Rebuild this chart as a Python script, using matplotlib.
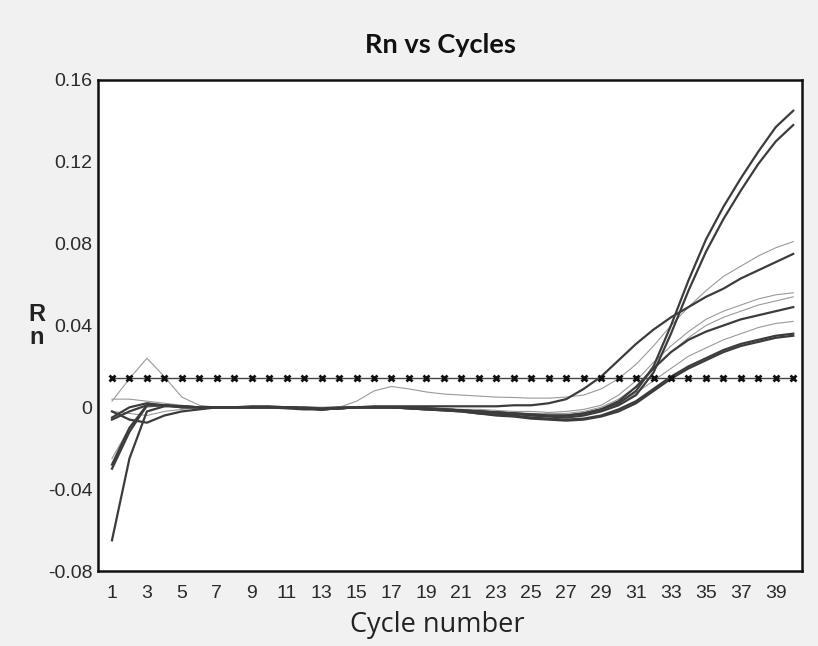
import matplotlib
matplotlib.use("Agg")
import matplotlib.pyplot as plt
import numpy as np

cycles = list(range(1, 41))
threshold = 0.0145

# thick (dark) amplification curves
curve_a = [-0.065, -0.025, -0.002, 0.0005, 0.0005, 0.0, 0.0, 0.0, 0.0, 0.0,
           -0.0005, -0.001, -0.001, -0.0005, 0.0, 0.0, 0.0, -0.0005, -0.001, -0.001,
           -0.0015, -0.002, -0.0025, -0.003, -0.0035, -0.004, -0.004, -0.003, -0.001, 0.002,
           0.008, 0.020, 0.040, 0.062, 0.082, 0.098, 0.112, 0.125, 0.137, 0.145]
curve_b = [-0.030, -0.012, 0.001, 0.001, 0.0005, 0.0, 0.0, 0.0, 0.0, 0.0,
           0.0, -0.0005, -0.001, -0.0005, 0.0, 0.0, 0.0, 0.0, -0.0005, -0.001,
           -0.0015, -0.002, -0.0025, -0.003, -0.004, -0.0045, -0.005, -0.004, -0.002, 0.001,
           0.006, 0.017, 0.036, 0.057, 0.076, 0.092, 0.106, 0.119, 0.130, 0.138]
curve_d = [-0.005, 0.000, 0.002, 0.001, 0.0005, 0.0, 0.0, 0.0, 0.0005, 0.0005,
           0.0, 0.0, -0.0005, 0.0, 0.0, 0.0005, 0.0005, 0.0005, 0.0005, 0.0005,
           0.0005, 0.0005, 0.0005, 0.001, 0.001, 0.002, 0.004, 0.009, 0.015, 0.023,
           0.031, 0.038, 0.044, 0.049, 0.054, 0.058, 0.063, 0.067, 0.071, 0.075]
curve_g = [-0.028, -0.010, 0.001, 0.001, 0.0, 0.0, 0.0, 0.0, 0.0, 0.0,
           0.0, -0.0005, -0.001, -0.0005, 0.0, 0.0, 0.0, 0.0, -0.0005, -0.001,
           -0.0015, -0.002, -0.0025, -0.003, -0.0035, -0.004, -0.004, -0.003, -0.001, 0.003,
           0.010, 0.019, 0.027, 0.033, 0.037, 0.040, 0.043, 0.045, 0.047, 0.049]
curve_i = [-0.006, -0.002, 0.001, 0.001, 0.0, 0.0, 0.0, 0.0, 0.0, 0.0,
           0.0, -0.0005, -0.001, -0.0005, 0.0, 0.0, 0.0, -0.0005, -0.001, -0.0015,
           -0.002, -0.003, -0.0035, -0.004, -0.005, -0.0055, -0.006, -0.0055, -0.004, -0.001,
           0.003, 0.009, 0.015, 0.020, 0.024, 0.028, 0.031, 0.033, 0.035, 0.036]
curve_j = [-0.002, -0.006, -0.0075, -0.004, -0.002, -0.001, 0.0, 0.0, 0.0, 0.0,
           0.0, -0.0005, -0.001, -0.0005, 0.0, 0.0, 0.0, -0.0005, -0.001, -0.0015,
           -0.002, -0.003, -0.004, -0.0045, -0.0055, -0.006, -0.0065, -0.006, -0.0045, -0.002,
           0.002, 0.008, 0.014, 0.019, 0.023, 0.027, 0.030, 0.032, 0.034, 0.035]

# thin (light) curves
curve_c = [0.003, 0.014, 0.024, 0.015, 0.005, 0.001, 0.0, 0.0, 0.0, 0.0,
           0.0, 0.0, 0.0, 0.0, 0.003, 0.008, 0.0102, 0.009, 0.0075, 0.0065,
           0.006, 0.0055, 0.005, 0.0048, 0.0045, 0.0045, 0.005, 0.006, 0.009, 0.014,
           0.021, 0.030, 0.040, 0.049, 0.057, 0.064, 0.069, 0.074, 0.078, 0.081]
curve_e = [-0.025, -0.010, 0.0, 0.001, 0.0005, 0.0, 0.0, 0.0, 0.0, 0.0,
           0.0, -0.0005, -0.0005, 0.0, 0.0, 0.0, 0.0, 0.0, 0.0, -0.0005,
           -0.001, -0.001, -0.0015, -0.002, -0.002, -0.0025, -0.002, -0.001, 0.001, 0.006,
           0.013, 0.022, 0.030, 0.037, 0.043, 0.047, 0.050, 0.053, 0.055, 0.056]
curve_f = [0.004, 0.004, 0.003, 0.002, 0.001, 0.0, 0.0, 0.0, 0.0, 0.0,
           0.0, 0.0, 0.0, 0.0, 0.0, 0.0, 0.0, 0.0, -0.0005, -0.001,
           -0.001, -0.0015, -0.002, -0.0025, -0.003, -0.003, -0.003, -0.002, 0.000, 0.004,
           0.010, 0.019, 0.027, 0.034, 0.040, 0.044, 0.047, 0.050, 0.052, 0.054]
curve_h = [-0.002, -0.003, -0.004, -0.002, -0.001, 0.0, 0.0, 0.0, 0.0, 0.0,
           0.0, -0.0005, -0.001, -0.0005, 0.0, 0.0, 0.0, 0.0, -0.0005, -0.001,
           -0.0015, -0.002, -0.003, -0.0035, -0.004, -0.0045, -0.0045, -0.003, -0.001, 0.002,
           0.007, 0.013, 0.019, 0.025, 0.029, 0.033, 0.036, 0.039, 0.041, 0.042]

thick_curves = [curve_d, curve_g, curve_i, curve_j, curve_b, curve_a]
thin_curves = [curve_c, curve_e, curve_f, curve_h]

xtick_labels = [str(c) for c in range(1, 40, 2)]
ytick_values = [-0.08, -0.04, 0, 0.04, 0.08, 0.12, 0.16]
ytick_labels = ["-0.08", "-0.04", "0", "0.04", "0.08", "0.12", "0.16"]

bg = "#f1f1f1"
fig = plt.figure(figsize=(8.18, 6.46), dpi=100, facecolor=bg)
ax = fig.add_axes([98/818, 1 - 571/646, (802 - 98)/818, (571 - 80)/646])
ax.set_facecolor("white")

for c in thin_curves:
    ax.plot(cycles, c, color="#9a9a9a", lw=0.8, zorder=2)
for c in thick_curves:
    ax.plot(cycles, c, color="#3c3c3c", lw=1.6, zorder=3)

ax.plot(cycles, [threshold] * len(cycles), color="#444444", lw=1.0,
        marker="x", ms=4.5, mew=2.0, mec="#111111", zorder=4)

ax.set_xlim(0.2, 40.5)
ax.set_ylim(-0.08, 0.16)
ax.set_xticks(list(range(1, 40, 2)))
ax.set_xticklabels(xtick_labels, fontfamily="Liberation Sans", fontsize=14, color="#2a2a2a")
ax.set_yticks(ytick_values)
ax.set_yticklabels(ytick_labels, fontfamily="Liberation Sans", fontsize=14, color="#2a2a2a")
ax.tick_params(axis="x", length=0, pad=10)
ax.tick_params(axis="y", length=0, pad=4)
for s in ax.spines.values():
    s.set_linewidth(1.8)
    s.set_color("#111111")

fig.text(440/818, 1 - 45/646, "Rn vs Cycles", ha="center", va="center",
         fontfamily="Lato", fontweight="bold", fontsize=19.5, color="#111111")
fig.text(437/818, 1 - 625/646, "Cycle number", ha="center", va="center",
         fontfamily="Open Sans", fontsize=19.5, color="#222222")
fig.text(37/818, 1 - 326/646, "R\nn", ha="center", va="center", linespacing=0.95,
         fontfamily="Liberation Sans", fontweight="bold", fontsize=17, color="#222222")

fig.savefig("out.png", dpi=100, facecolor=bg)
